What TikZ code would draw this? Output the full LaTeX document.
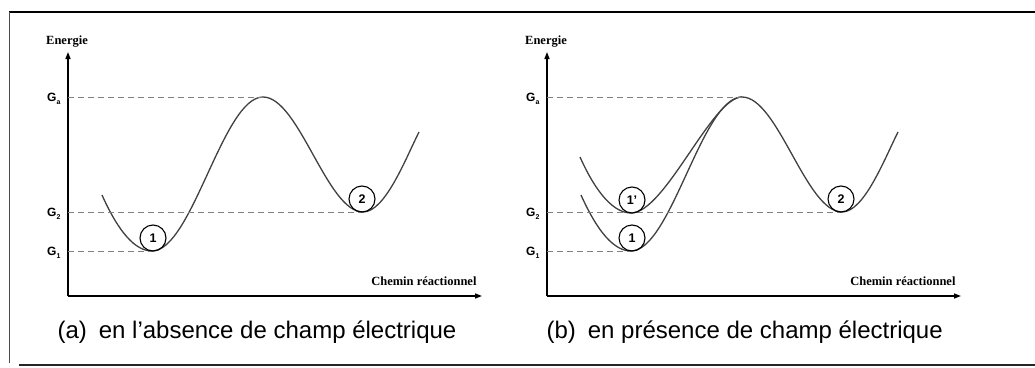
\documentclass[tikz,border=0pt]{standalone}
\usepackage{fontspec}
\setmainfont{Liberation Sans}
\newfontfamily\serifbf{Liberation Serif}
\usetikzlibrary{arrows.meta}

\newcommand{\niveau}[1]{\textbf{G}\raisebox{-2.5pt}{\fontsize{7}{8}\selectfont\bfseries #1}}

\tikzset{
  axe/.style={line width=1.4pt, -{Triangle[length=7pt,width=5pt]}},
  niv/.style={black!50, dash pattern=on 6pt off 4pt, line width=1pt},
  courbe/.style={black!75, line width=1.3pt},
  etat/.style={draw, circle, line width=1.1pt, minimum size=26pt, inner sep=0pt, font=\fontsize{12.5}{13}\selectfont\bfseries},
  glab/.style={anchor=base east, font=\fontsize{12}{13}\selectfont},
  axlab/.style={font=\fontsize{12.5}{14}\serifbf\bfseries},
  legende/.style={anchor=base west, font=\fontsize{24}{28}\selectfont},
}

\begin{document}
\begin{tikzpicture}[x=1pt, y=-1pt]
    \useasboundingbox (0,0) rectangle (1035,367);

    % cadre
    \draw[line width=1.2pt] (9,12) -- (1035,12);
    \draw[black!70, line width=1pt] (9,12) -- (9,363);
    \draw[black!85, line width=1.8pt] (19,365) -- (1035,365);

    % (a) axes
    \coordinate (aO) at (68,296);
    \coordinate (aY) at (68,52);
    \coordinate (aX) at (482,296);
    \draw[axe] (aO) -- (aY);
    \draw[axe] (aO) -- (aX);
    \node[axlab, anchor=base] (aE) at (67,44) {Energie};
    \node[axlab, anchor=base east] (aC) at (480,285) {Chemin réactionnel};

    % (a) courbe
    \coordinate (am1) at (152,251);
    \coordinate (atop) at (263,97);
    \coordinate (am2) at (363,212);
    \draw[courbe] (102,195) .. controls (118.7,232.3) and (135.3,251) .. (am1)
        .. controls (192,251) and (223,97) .. (atop)
        .. controls (299,97) and (327,212) .. (am2)
        .. controls (385,212) and (405,160) .. (419,132);

    % (a) niveaux
    \draw[niv] (aO |- atop) -- (atop);
    \draw[niv] (aO |- am2) -- (am2);
    \draw[niv] (aO |- am1) -- (am1);
    \node[glab] (aGa) at (64,101.5) {\niveau{a}};
    \node[glab] (aG2) at (64,216.5) {\niveau{2}};
    \node[glab] (aG1) at (64,255.5) {\niveau{1}};
    \node[etat] (a1) at (153,238) {1};
    \node[etat] (a2) at (362,199) {2};

    \node[legende] (la) at (54,338) {(a)\hspace{12pt}en l’absence de champ électrique};

    \begin{scope}[xshift=479]
    % (b) axes
    \coordinate (bO) at (68,296);
    \coordinate (bY) at (68,52);
    \coordinate (bX) at (482,296);
    \draw[axe] (bO) -- (bY);
    \draw[axe] (bO) -- (bX);
    \node[axlab, anchor=base] (bE) at (67,44) {Energie};
    \node[axlab, anchor=base east] (bC) at (480,285) {Chemin réactionnel};

    % (b) courbes
    \coordinate (bm1) at (152,251);
    \coordinate (bm1p) at (152,213);
    \coordinate (btop) at (263,97);
    \coordinate (bm2) at (363,212);
    \draw[courbe] (102,195) .. controls (118.7,232.3) and (135.3,251) .. (bm1)
        .. controls (192,251) and (223,97) .. (btop)
        .. controls (299,97) and (327,212) .. (bm2)
        .. controls (385,212) and (405,160) .. (419,132);
    \draw[courbe] (101,157) .. controls (117.7,194.3) and (135.3,213) .. (bm1p)
        .. controls (186,213) and (233,97) .. (btop);

    % (b) niveaux
    \draw[niv] (bO |- btop) -- (btop);
    \draw[niv] (bO |- bm2) -- (bm2);
    \draw[niv] (bO |- bm1) -- (bm1);
    \node[glab] (bGa) at (64,101.5) {\niveau{a}};
    \node[glab] (bG2) at (64,216.5) {\niveau{2}};
    \node[glab] (bG1) at (64,255.5) {\niveau{1}};
    \node[etat] (b1p) at (153,200) {1'};
    \node[etat] (b1) at (153,238) {1};
    \node[etat] (b2) at (362,199) {2};

    \node[legende] (lb) at (64,338) {(b)\hspace{12pt}en présence de champ électrique};
    \end{scope}
\end{tikzpicture}
\end{document}
